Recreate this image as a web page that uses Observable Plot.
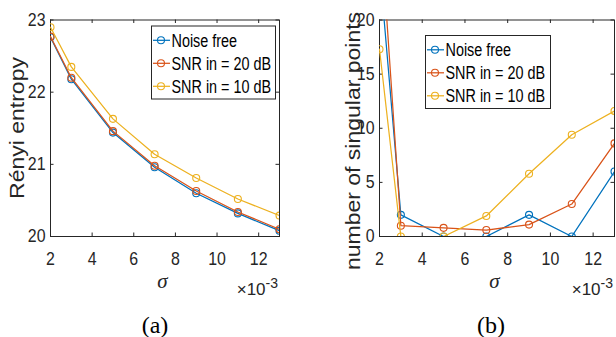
<!DOCTYPE html>
<html>
<head>
<meta charset="utf-8">
<script src="https://cdn.jsdelivr.net/npm/d3@7"></script>
<script src="https://cdn.jsdelivr.net/npm/@observablehq/plot@0.6"></script>
<style>
  body { margin: 0; background: #fff; }
  #figure { display: flex; width: 616px; height: 337px; }
</style>
</head>
<body>
<div id="figure"></div>
<script>
// Kernel width sigma (in units of 1e-3)
const sigma = [2, 3, 5, 7, 9, 11, 13];
const seriesNames = ["Noise free", "SNR in = 20 dB", "SNR in = 10 dB"];
const seriesColors = ["#0072BD", "#D95319", "#EDB120"];

// (a) Rényi entropy
const entropyNoiseFree = [22.76, 22.18, 21.44, 20.96, 20.60, 20.32, 20.08];
const entropy20dB      = [22.77, 22.20, 21.46, 20.98, 20.63, 20.34, 20.10];
const entropy10dB      = [22.90, 22.35, 21.63, 21.14, 20.81, 20.52, 20.29];

// (b) number of singular points (values above 20 run off the top of the axes)
const singularNoiseFree = [25, 2, 0, 0, 2, 0, 6];
const singular20dB      = [30, 1, 0.8, 0.6, 1.1, 3, 8.6];
const singular10dB      = [17.3, 0, 0, 1.9, 5.8, 9.4, 11.6];

const xTicks = [2, 4, 6, 8, 10, 12];
const entropyTicks = [20, 21, 22, 23];
const singularTicks = [0, 5, 10, 15, 20];

const axisColor = "#262626";
const sansFont = "'Liberation Sans', Arial, Helvetica, sans-serif";
const serifFont = "'Liberation Serif', 'Times New Roman', serif";

// squeeze text horizontally, as in the printed figure
function squeeze(sel, factor) {
  sel.each(function () {
    const len = this.getComputedTextLength();
    if (len > 0) {
      this.setAttribute("textLength", len * factor);
      this.setAttribute("lengthAdjust", "spacingAndGlyphs");
    }
  });
}

function panel({series, yDomain, yTicks, marginLeft, marginRight, yLabel, yLabelX, yLabelY, legendBox, caption}) {
  const width = 308, height = 337, marginTop = 19.5, marginBottom = 101;
  const innerW = width - marginLeft - marginRight;
  const innerH = height - marginTop - marginBottom;
  const tick = 3.5;
  const marks = [
    Plot.frame({stroke: axisColor, strokeWidth: 1}),
    Plot.axisX({ticks: xTicks, anchor: "bottom", tickSize: 0, tickPadding: 15, tickFormat: d3.format("d"), label: null}),
    Plot.axisY({ticks: yTicks, anchor: "left", tickSize: 0, tickPadding: 5, tickFormat: d3.format("d"), label: null}),
    // inward ticks on all four sides of the box
    Plot.tickX(xTicks, {x: d => d, stroke: axisColor, insetTop: innerH - tick}),
    Plot.tickX(xTicks, {x: d => d, stroke: axisColor, insetBottom: innerH - tick}),
    Plot.tickY(yTicks, {y: d => d, stroke: axisColor, insetRight: innerW - tick}),
    Plot.tickY(yTicks, {y: d => d, stroke: axisColor, insetLeft: innerW - tick})
  ];
  series.forEach((values, i) => {
    const rows = sigma.map((s, j) => ({sigma: s, value: values[j]}));
    marks.push(
      Plot.line(rows, {x: "sigma", y: "value", stroke: seriesColors[i], strokeWidth: 1.25, clip: true}),
      Plot.dot(rows, {x: "sigma", y: "value", stroke: seriesColors[i], fill: "none", r: 3.5, strokeWidth: 1.1, clip: true})
    );
  });
  const chart = Plot.plot({
    width, height, marginTop, marginBottom, marginLeft, marginRight,
    x: {domain: [2, 13]},
    y: {domain: yDomain},
    style: {fontFamily: sansFont, fontSize: "18.5px", color: axisColor, background: "#fff", overflow: "visible"},
    marks
  });
  document.getElementById("figure").appendChild(chart);

  const svg = d3.select(chart);
  squeeze(svg.selectAll('g[aria-label="x-axis tick label"] text, g[aria-label="y-axis tick label"] text'), 0.86);

  const right = width - marginRight;
  const mid = (marginLeft + right) / 2;

  // y-axis title
  svg.append("text")
    .attr("transform", `translate(${yLabelX},${yLabelY}) rotate(-90) scale(1,0.85)`)
    .attr("text-anchor", "middle")
    .attr("fill", axisColor)
    .style("font-family", sansFont)
    .style("font-size", "23px")
    .text(yLabel);

  // x-axis title
  svg.append("text")
    .attr("x", mid - 2).attr("y", 288)
    .attr("text-anchor", "middle")
    .attr("fill", axisColor)
    .style("font-family", serifFont)
    .style("font-style", "italic")
    .style("font-size", "21px")
    .text("σ");

  // exponent of the x scale
  const expo = svg.append("text")
    .attr("x", right - 1).attr("y", 295)
    .attr("text-anchor", "end")
    .attr("fill", axisColor)
    .style("font-family", sansFont)
    .style("font-size", "17px");
  expo.append("tspan").text("×10");
  expo.append("tspan").attr("dy", -7).style("font-size", "14px").text("-3");

  // legend
  const lg = svg.append("g");
  lg.append("rect")
    .attr("x", legendBox.x + 0.5).attr("y", legendBox.y + 0.5)
    .attr("width", legendBox.w).attr("height", legendBox.h)
    .attr("fill", "#fff").attr("stroke", axisColor).attr("stroke-width", 1);
  seriesNames.forEach((name, i) => {
    const cy = legendBox.y + 14.8 + i * 23;
    lg.append("line")
      .attr("x1", legendBox.x + 2).attr("x2", legendBox.x + 19)
      .attr("y1", cy).attr("y2", cy)
      .attr("stroke", seriesColors[i]).attr("stroke-width", 1.25);
    lg.append("circle")
      .attr("cx", legendBox.x + 10).attr("cy", cy).attr("r", 3.5)
      .attr("fill", "none").attr("stroke", seriesColors[i]).attr("stroke-width", 1.1);
    lg.append("text")
      .attr("x", legendBox.x + 20.5).attr("y", cy + 6.5)
      .attr("text-anchor", "start")
      .attr("fill", "#000")
      .style("font-family", sansFont)
      .style("font-size", "18px")
      .text(name);
  });
  squeeze(lg.selectAll("text"), 0.8);

  // panel caption
  svg.append("text")
    .attr("x", caption.x).attr("y", 333)
    .attr("text-anchor", "middle")
    .attr("fill", "#000")
    .style("font-family", serifFont)
    .style("font-size", "24px")
    .text(caption.text);
}

panel({
  series: [entropyNoiseFree, entropy20dB, entropy10dB],
  yDomain: [20, 23], yTicks: entropyTicks,
  marginLeft: 50, marginRight: 29,
  yLabel: "Rényi entropy", yLabelX: 24, yLabelY: 128,
  legendBox: {x: 151, y: 25.5, w: 124, h: 73},
  caption: {x: 155, text: "(a)"}
});

panel({
  series: [singularNoiseFree, singular20dB, singular10dB],
  yDomain: [0, 20], yTicks: singularTicks,
  marginLeft: 71, marginRight: 2,
  yLabel: "number of singular points", yLabelX: 52, yLabelY: 141,
  legendBox: {x: 117, y: 35, w: 125, h: 73},
  caption: {x: 183, text: "(b)"}
});
</script>
</body>
</html>
